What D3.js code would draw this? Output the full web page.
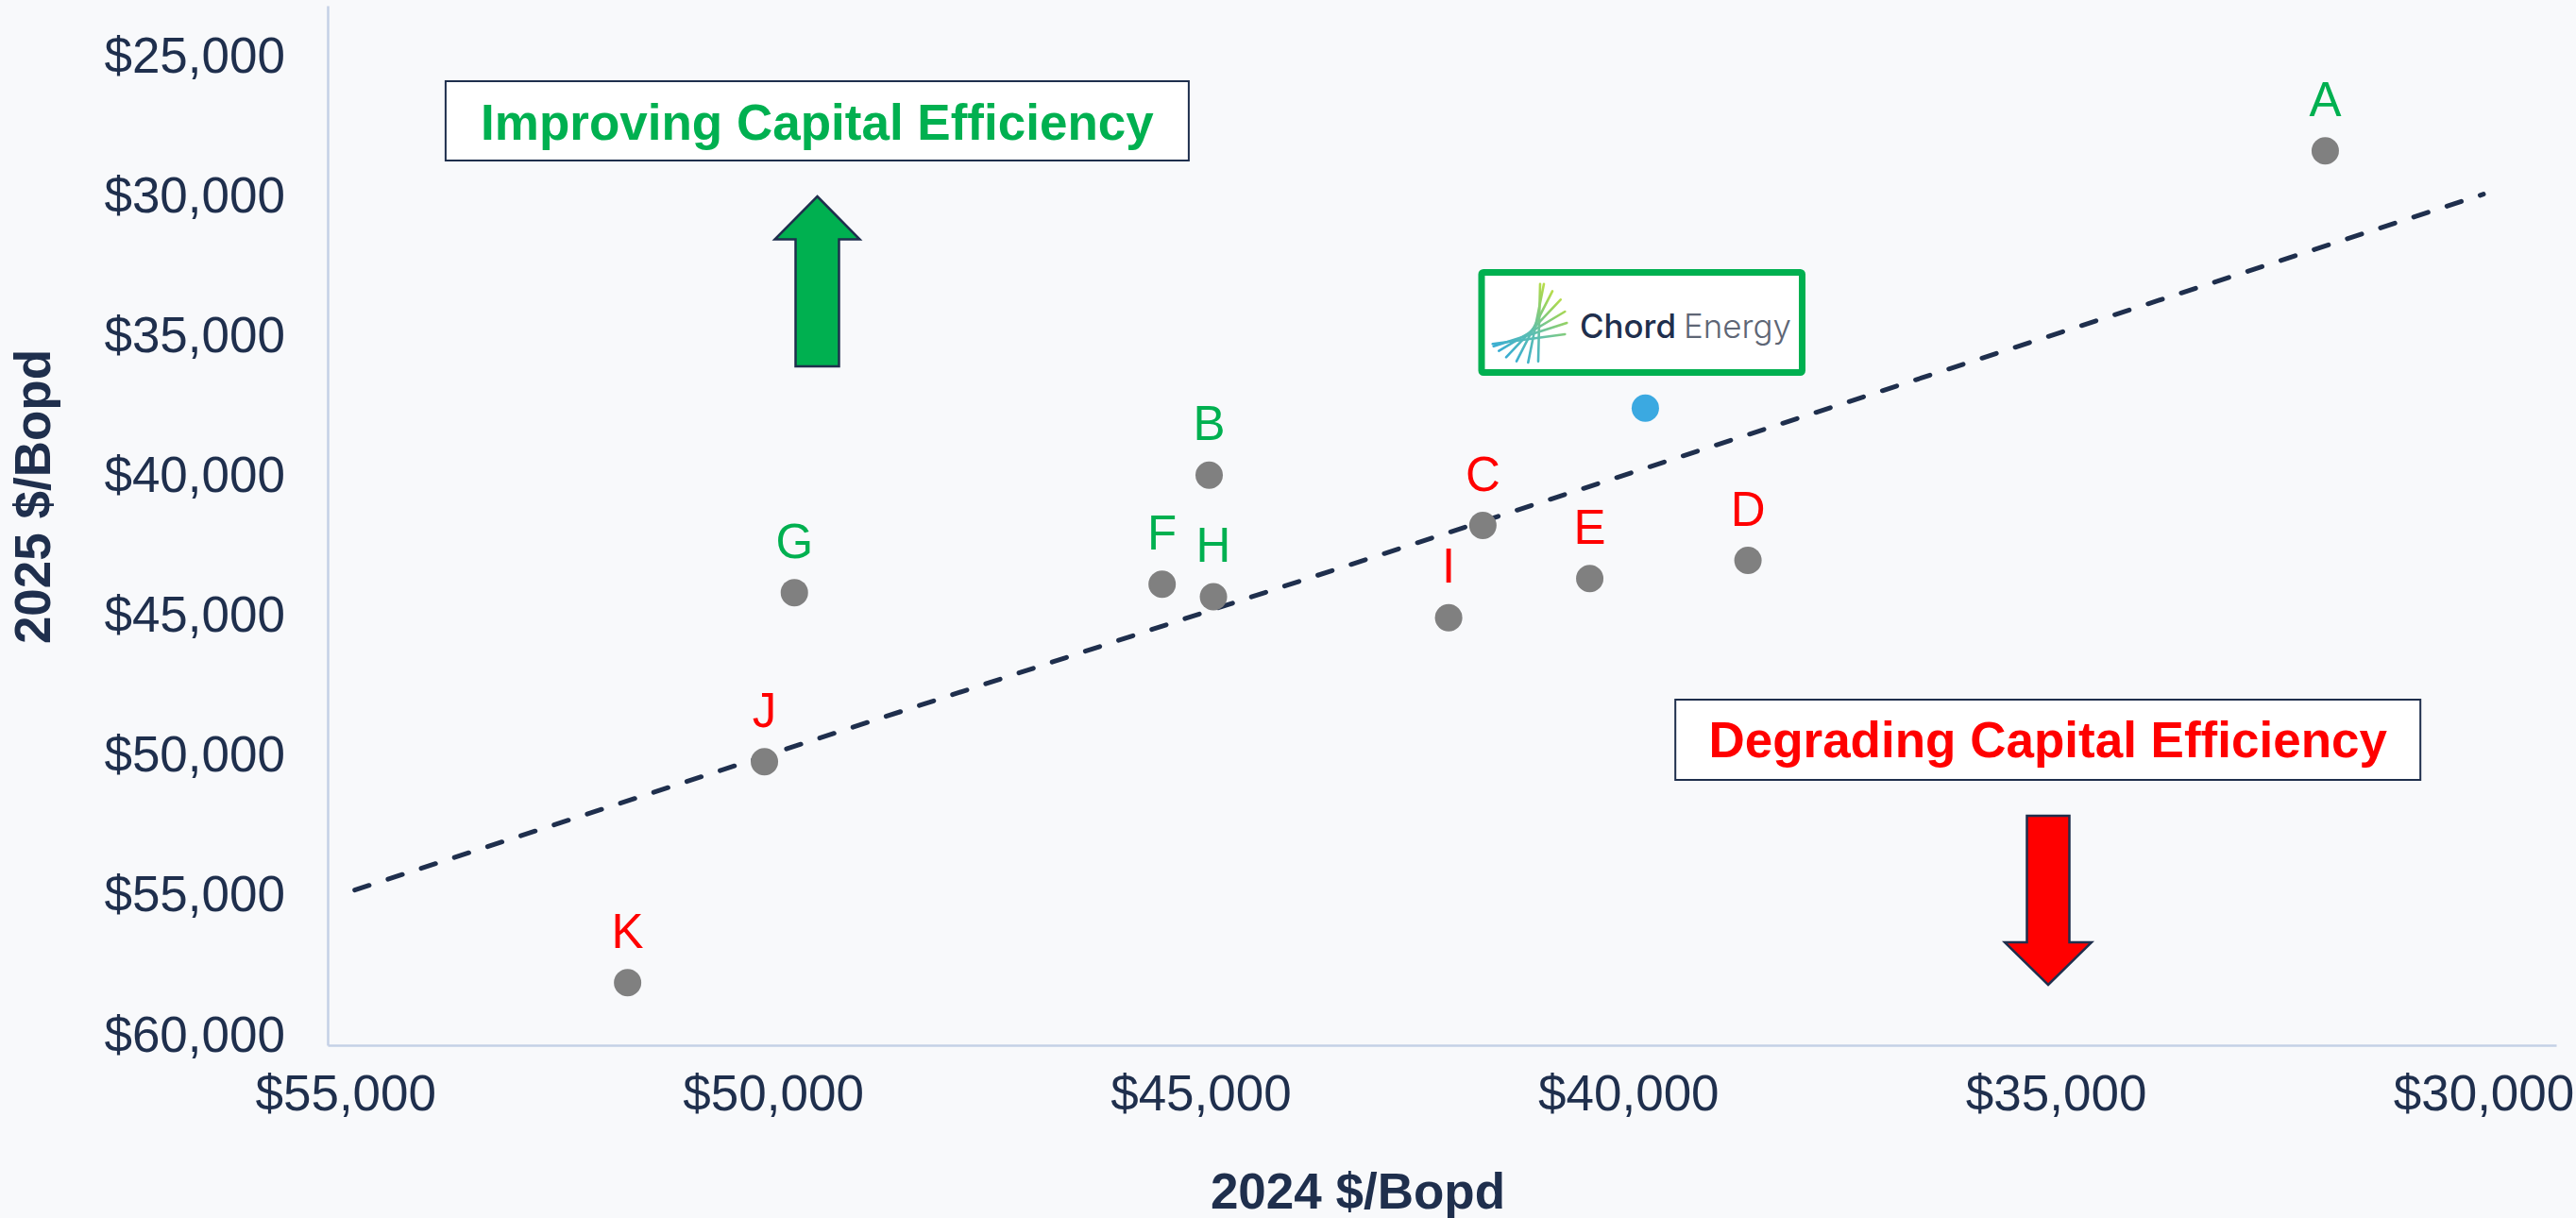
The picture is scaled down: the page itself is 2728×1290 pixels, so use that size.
<!DOCTYPE html>
<html>
<head>
<meta charset="utf-8">
<script src="https://cdn.jsdelivr.net/npm/d3@7/dist/d3.min.js"></script>
<style>
  html, body { margin: 0; padding: 0; background: #F8F9FB; }
  svg { display: block; }
</style>
</head>
<body>
<svg id="chart" width="2728" height="1290"></svg>
<script>
// ---- data ----
const peerNames   = ["A", "B", "C", "D", "E", "F", "G", "H", "I", "J", "K"];
const peerX2024   = [31850, 44900, 41700, 38600, 40450, 45450, 49750, 44850, 42100, 50100, 51700];
const peerY2025   = [28450, 40050, 41850, 43100, 43750, 43950, 44250, 44400, 45150, 50300, 58200];
const peerTrend   = ["up", "up", "down", "down", "down", "up", "up", "up", "down", "down", "down"];
const chordX2024  = [39800];
const chordY2025  = [37650];
const trendX      = [54890, 30000];
const trendY      = [54890, 30000];
const xTicks      = [55000, 50000, 45000, 40000, 35000, 30000];
const yTicks      = [25000, 30000, 35000, 40000, 45000, 50000, 55000, 60000];
const xTitle      = "2024 $/Bopd";
const yTitle      = "2025 $/Bopd";
const upLabel     = "Improving Capital Efficiency";
const downLabel   = "Degrading Capital Efficiency";

// ---- layout ----
const navy = "#1F2F4D";
const green = "#00B050";
const red = "#FF0000";
const axisCol = "#C5D0E6";
const font = "'Liberation Sans', Arial, sans-serif";

const svg = d3.select("#chart");
svg.append("rect").attr("width", 2728).attr("height", 1290).attr("fill", "#F8F9FB");

const x = d3.scaleLinear().domain([55207, 29150]).range([347, 2707]);
const y = d3.scaleLinear().domain([23257, 60439]).range([6, 1107]);
const fmt = d => "$" + d3.format(",")(d);

// axes
const xAxis = svg.append("g").attr("transform", "translate(0,1107)")
  .call(d3.axisBottom(x).tickValues(xTicks).tickFormat(fmt).tickSize(0).tickPadding(0));
xAxis.select(".domain").attr("stroke", axisCol).attr("stroke-width", 2.5);
xAxis.selectAll("text").attr("font-family", font).attr("font-size", 53)
  .attr("fill", navy).attr("dy", null).attr("y", 69);

const yAxis = svg.append("g").attr("transform", "translate(347,0)")
  .call(d3.axisLeft(y).tickValues(yTicks).tickFormat(fmt).tickSize(0).tickPadding(0));
yAxis.select(".domain").attr("stroke", axisCol).attr("stroke-width", 2.5);
yAxis.selectAll("text").attr("font-family", font).attr("font-size", 53)
  .attr("fill", navy).attr("x", -45).attr("dy", 19);

// axis titles
svg.append("text").attr("x", 1438).attr("y", 1280).attr("text-anchor", "middle")
  .attr("font-family", font).attr("font-size", 53).attr("font-weight", "bold")
  .attr("fill", navy).text(xTitle);
svg.append("text").attr("transform", "translate(53,526) rotate(-90)").attr("text-anchor", "middle")
  .attr("font-family", font).attr("font-size", 53).attr("font-weight", "bold")
  .attr("fill", navy).text(yTitle);

// trend (1:1) line
svg.append("path")
  .datum(trendX.map((v, i) => [v, trendY[i]]))
  .attr("d", d3.line().x(d => x(d[0])).y(d => y(d[1])))
  .attr("fill", "none").attr("stroke", navy).attr("stroke-width", 5)
  .attr("stroke-dasharray", "16 21").attr("stroke-linecap", "round");

// annotation boxes
function noteBox(cx, top, w, h, label, color, baselineOff) {
  svg.append("rect").attr("x", cx - w / 2).attr("y", top).attr("width", w).attr("height", h)
    .attr("fill", "#FFFFFF").attr("stroke", navy).attr("stroke-width", 2);
  svg.append("text").attr("x", cx).attr("y", top + baselineOff).attr("text-anchor", "middle")
    .attr("font-family", font).attr("font-size", 53).attr("font-weight", "bold")
    .attr("fill", color).text(label);
}
noteBox(865.4, 86, 787, 84, upLabel, green, 62);
noteBox(2168.7, 741, 789, 85, downLabel, red, 61);

// arrows
function arrow(cx, tipY, headBaseY, endY, headHalf, shaftHalf, color) {
  const p = d3.path();
  p.moveTo(cx, tipY);
  p.lineTo(cx + headHalf, headBaseY);
  p.lineTo(cx + shaftHalf, headBaseY);
  p.lineTo(cx + shaftHalf, endY);
  p.lineTo(cx - shaftHalf, endY);
  p.lineTo(cx - shaftHalf, headBaseY);
  p.lineTo(cx - headHalf, headBaseY);
  p.closePath();
  svg.append("path").attr("d", p.toString()).attr("fill", color)
    .attr("stroke", navy).attr("stroke-width", 2.5).attr("stroke-linejoin", "miter");
}
arrow(865.5, 208, 253.5, 388, 45, 23, green);
arrow(2169, 1043, 998, 864, 46, 22.5, red);

// Chord Energy logo box
const lg = svg.append("g");
const defs = svg.append("defs");
const grad = defs.append("linearGradient").attr("id", "chordGrad")
  .attr("gradientUnits", "userSpaceOnUse")
  .attr("x1", 1585).attr("y1", 385).attr("x2", 1655).attr("y2", 300);
grad.append("stop").attr("offset", "0%").attr("stop-color", "#2EA7DD");
grad.append("stop").attr("offset", "45%").attr("stop-color", "#5DBFB0");
grad.append("stop").attr("offset", "75%").attr("stop-color", "#9AD35E");
grad.append("stop").attr("offset", "100%").attr("stop-color", "#D5E63A");
lg.append("rect").attr("x", 1569).attr("y", 288.5).attr("width", 339.5).attr("height", 106)
  .attr("rx", 2).attr("fill", "#FFFFFF").attr("stroke", green).attr("stroke-width", 7);
const fan = [
  [1629, 382.7, 1631, 300.7],
  [1618.3, 384, 1635, 300.7],
  [1606, 382.7, 1644, 308.3],
  [1595, 378.3, 1652.7, 317.3],
  [1587.3, 371.7, 1657.3, 330],
  [1581.7, 366.7, 1659.3, 342],
  [1580.7, 364.3, 1657.3, 354]
];
lg.selectAll("line.fan").data(fan).join("line").attr("class", "fan")
  .attr("x1", d => d[0]).attr("y1", d => d[1]).attr("x2", d => d[2]).attr("y2", d => d[3])
  .attr("stroke", "url(#chordGrad)").attr("stroke-width", 2.6).attr("stroke-linecap", "round");
lg.append("text").attr("x", 1673).attr("y", 358)
  .attr("font-family", "Inter, 'Open Sans', sans-serif").attr("font-size", 35).attr("font-weight", 500)
  .attr("fill", navy).attr("textLength", 102).attr("lengthAdjust", "spacingAndGlyphs").text("Chord");
lg.append("text").attr("x", 1783).attr("y", 358)
  .attr("font-family", "Inter, 'Open Sans', sans-serif").attr("font-size", 35).attr("font-weight", 300)
  .attr("fill", "#5E6675").attr("textLength", 114).attr("lengthAdjust", "spacingAndGlyphs").text("Energy");

// peer points
const peers = peerNames.map((n, i) => ({ n, x: peerX2024[i], y: peerY2025[i], t: peerTrend[i] }));
svg.selectAll("circle.peer").data(peers).join("circle").attr("class", "peer")
  .attr("cx", d => x(d.x)).attr("cy", d => y(d.y)).attr("r", 14.5).attr("fill", "#808080");
svg.selectAll("text.peer").data(peers).join("text").attr("class", "peer")
  .attr("x", d => x(d.x)).attr("y", d => y(d.y) - 37).attr("text-anchor", "middle")
  .attr("font-family", font).attr("font-size", 51)
  .attr("fill", d => d.t === "up" ? green : red).text(d => d.n);

// Chord point
svg.selectAll("circle.chord").data(chordX2024.map((v, i) => [v, chordY2025[i]])).join("circle")
  .attr("class", "chord").attr("cx", d => x(d[0])).attr("cy", d => y(d[1])).attr("r", 14.5)
  .attr("fill", "#3BA9E1");
</script>
</body>
</html>
